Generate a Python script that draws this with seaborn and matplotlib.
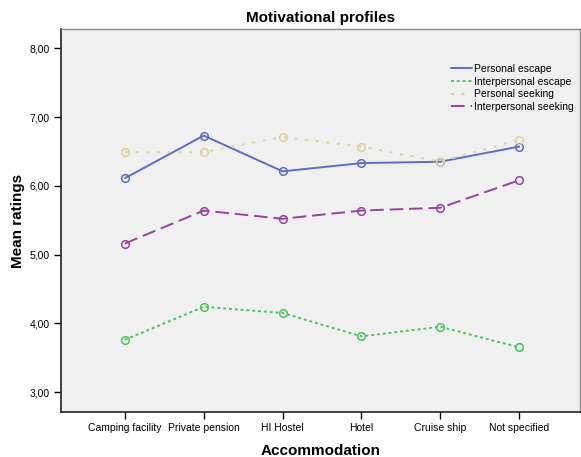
import numpy as np
import pandas as pd
import seaborn as sns
import matplotlib.pyplot as plt

accommodation = ['Camping facility', 'Private pension', 'HI Hostel', 'Hotel', 'Cruise ship', 'Not specified']
personal_escape = [6.11, 6.73, 6.21, 6.33, 6.35, 6.57]
interpersonal_escape = [3.76, 4.24, 4.15, 3.81, 3.95, 3.65]
personal_seeking = [6.49, 6.49, 6.71, 6.57, 6.35, 6.67]
interpersonal_seeking = [5.16, 5.64, 5.52, 5.64, 5.68, 6.08]
yticks = [3, 4, 5, 6, 7, 8]

series = {
    'Personal escape': personal_escape,
    'Interpersonal escape': interpersonal_escape,
    'Personal seeking': personal_seeking,
    'Interpersonal seeking': interpersonal_seeking,
}
colors = ['#5b6ec4', '#4cc55c', '#dcd49c', '#96459a']
dashes = ['-', (0, (1.5, 1.5)), (0, (1.5, 4)), (0, (7, 3))]

df = pd.DataFrame([
    {'Accommodation': a, 'Mean': v, 'Profile': name}
    for name, vals in series.items() for a, v in zip(accommodation, vals)
])

sns.set_style('white')
plt.rcParams['font.family'] = ['Liberation Sans', 'DejaVu Sans']
plt.rcParams['text.color'] = 'black'
plt.rcParams['axes.labelcolor'] = 'black'
plt.rcParams['xtick.color'] = 'black'
plt.rcParams['ytick.color'] = 'black'

fig = plt.figure(figsize=(5.81, 4.57), dpi=100)
ax = fig.add_axes([0.105, 0.0985, 0.893, 0.838])
ax.set_facecolor('#f0f0f0')

for (name, _), c, d in zip(series.items(), colors, dashes):
    sub = df[df['Profile'] == name]
    sns.lineplot(data=sub, x='Accommodation', y='Mean', ax=ax, color=c,
                 linewidth=1.4, label=name, sort=False)
    ax.lines[-1].set_linestyle(d)
    ax.plot(range(len(accommodation)), sub['Mean'], linestyle='none', marker='o',
            markersize=5.5, markerfacecolor='none', markeredgecolor=c, markeredgewidth=1.1)

ax.set_xlim(-0.81, 5.77)
ax.set_ylim(2.71, 8.28)
ax.set_yticks(yticks)
ax.set_yticklabels([f'{t:.2f}'.replace('.', ',') for t in yticks], fontsize=7.5)
ax.set_xticks(range(len(accommodation)))
ax.set_xticklabels(accommodation, fontsize=7.5)
ax.tick_params(axis='both', length=5, width=1, color='black', direction='out',
               bottom=True, left=True, pad=3)
ax.set_xlabel('Accommodation', fontsize=11, fontweight='bold', labelpad=8)
ax.set_ylabel('Mean ratings', fontsize=11, fontweight='bold', labelpad=3)
ax.set_title('Motivational profiles', fontsize=11, fontweight='bold', pad=5)

for s in ['left', 'bottom']:
    ax.spines[s].set_color('#222222')
    ax.spines[s].set_linewidth(1.2)
for s in ['top', 'right']:
    ax.spines[s].set_color('#888888')
    ax.spines[s].set_linewidth(1.0)

leg = ax.legend(loc='upper right', bbox_to_anchor=(1.0, 0.925), frameon=False,
                fontsize=7.5, handlelength=2.0, handletextpad=0.2,
                labelspacing=0.25, borderaxespad=0.2)

fig.savefig('out.png', dpi=100)
